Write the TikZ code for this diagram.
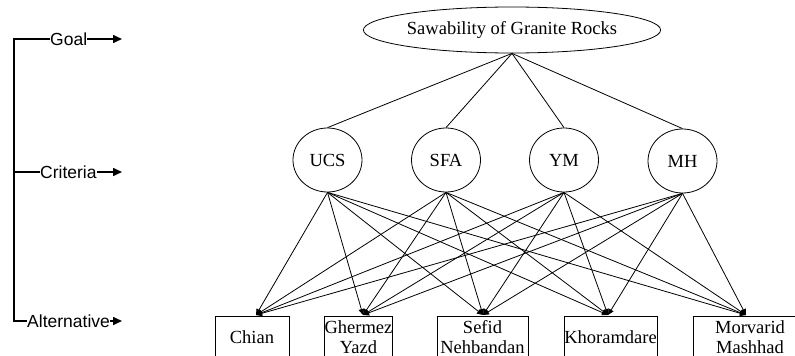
\documentclass[tikz,border=0pt]{standalone}
\usepackage{fontspec}
\setmainfont{Liberation Serif}
\newfontfamily\arialf{Liberation Sans}
\usetikzlibrary{arrows.meta,shapes.geometric}
\begin{document}
\begin{tikzpicture}[x=1pt,y=-1pt,
  lvl/.style={font=\arialf\fontsize{17.5}{19}\selectfont, inner sep=0pt, anchor=west},
  brk/.style={line width=1.6pt},
  brkarrow/.style={line width=1.6pt, -{Triangle[length=9pt,width=8pt]}},
  crit/.style={draw, ellipse, minimum width=69pt, minimum height=64pt, inner sep=0pt, line width=0.8pt, font=\fontsize{18.5}{20}\selectfont},
  alt/.style={draw, rectangle, anchor=north, minimum height=42pt, inner sep=0pt, line width=0.8pt, align=center, font=\fontsize{18.5}{18}\selectfont},
  link/.style={line width=0.8pt},
  arr/.style={line width=0.8pt, -{Triangle[length=6pt,width=5.5pt]}}
]
\useasboundingbox (0,0) rectangle (795,356);
\clip (0,0) rectangle (795,356);
% left bracket
\coordinate (btop) at (14,39);
\coordinate (bmid) at (14,172);
\coordinate (bbot) at (14,321);
\node[lvl] (lg) at (50,39) {Goal};
\node[lvl] (lc) at (40,172) {Criteria};
\node[lvl] (la) at (27,321) {Alternative};
\coordinate (ag) at (122,39);
\coordinate (ac) at (122,172);
\coordinate (aa) at (122,321);
\draw[brk] (lg.west) -- (btop) -- (bbot) -- (la.west);
\draw[brk] (bmid) -- (lc.west);
\draw[brkarrow] (lg.east) -- (ag);
\draw[brkarrow] (lc.east) -- (ac);
\draw[brkarrow] (la.east) -- (aa);
% goal
\node[draw, ellipse, minimum width=220pt, minimum height=46pt, inner sep=0pt, line width=0.8pt, font=\fontsize{18.5}{20}\selectfont] (goal) at (512,30) {Sawability of Granite Rocks};
% criteria
\node[crit] (c1) at (327.5,160) {UCS};
\node[crit] (c2) at (446,160) {SFA};
\node[crit] (c3) at (564,160) {YM};
\node[crit] (c4) at (682.5,161) {MH};
\foreach \c in {c1,c2,c3,c4} \draw[link] (goal.south) -- (\c.north);
% alternatives
\node[alt, minimum width=74pt] (a1) at (252,316) {Chian};
\node[alt, minimum width=65pt] (a2) at (358.5,316) {Ghermez\\[2pt]Yazd};
\node[alt, minimum width=91pt] (a3) at (482.5,316) {Sefid\\[2pt]Nehbandan};
\node[alt, minimum width=93pt] (a4) at (610.5,316) {Khoramdare};
\node[alt, minimum width=114pt] (a5) at (750,316) {Morvarid\\[2pt]Mashhad};
\coordinate (t1) at (256,315);
\coordinate (t2) at (363,315);
\coordinate (t3) at (483,315);
\coordinate (t4) at (608,315);
\coordinate (t5) at (746,315);
\foreach \c in {c1,c2,c3,c4}
  \foreach \t in {t1,t2,t3,t4,t5}
    \draw[arr] (\c.south) -- (\t);
\end{tikzpicture}
\end{document}
